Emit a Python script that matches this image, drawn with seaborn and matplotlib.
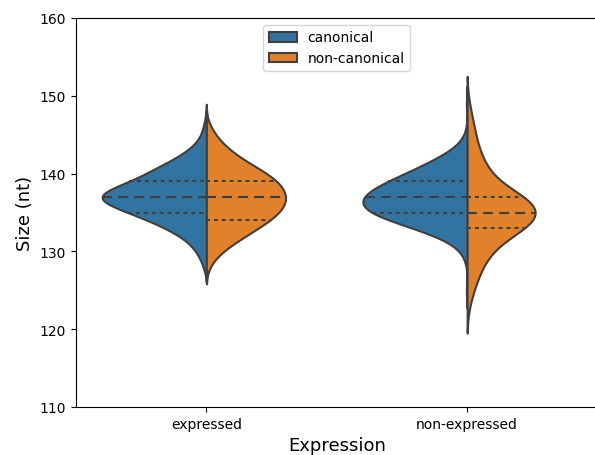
import numpy as np
import pandas as pd
import seaborn as sns
import matplotlib
matplotlib.use("Agg")
import matplotlib.pyplot as plt

# Category and hue labels
expression_levels = ["expressed", "non-expressed"]
splice_types = ["canonical", "non-canonical"]

# Size (nt) values and how many transcripts share each size, per group
expressed_canonical_sizes = [128, 129, 130, 131, 132, 133, 134, 135, 136, 137,
                             138, 139, 140, 141, 142, 143, 144, 145, 146, 147]
expressed_canonical_counts = [3, 5, 9, 14, 23, 36, 51, 69, 88, 103,
                              86, 66, 53, 41, 26, 16, 8, 4, 3, 1]

expressed_noncanonical_sizes = [128, 129, 130, 131, 132, 133, 134, 135, 136, 137,
                                138, 139, 140, 141, 142, 143, 144, 145, 146]
expressed_noncanonical_counts = [2, 5, 11, 18, 27, 35, 44, 50, 54, 55,
                                 53, 49, 42, 32, 23, 16, 10, 6, 3]

nonexpressed_canonical_sizes = [125, 129, 130, 131, 132, 133, 134, 135, 136, 137,
                                138, 139, 140, 141, 142, 143, 144, 145, 149]
nonexpressed_canonical_counts = [2, 2, 5, 12, 28, 50, 75, 95, 103, 100,
                                 90, 75, 58, 42, 28, 14, 5, 2, 2]

nonexpressed_noncanonical_sizes = [123, 124, 125, 126, 127, 128, 129, 130, 131, 132,
                                   133, 134, 135, 136, 137, 138, 139, 140, 141,
                                   142, 143, 144, 145, 146, 147, 148, 149]
nonexpressed_noncanonical_counts = [2, 3, 5, 7, 9, 11, 14, 18, 23, 28,
                                    50, 55, 57, 55, 51, 26, 20, 18, 14,
                                    11, 9, 7, 7, 5, 4, 3, 2]

groups = [
    ("expressed", "canonical", expressed_canonical_sizes, expressed_canonical_counts),
    ("expressed", "non-canonical", expressed_noncanonical_sizes, expressed_noncanonical_counts),
    ("non-expressed", "canonical", nonexpressed_canonical_sizes, nonexpressed_canonical_counts),
    ("non-expressed", "non-canonical", nonexpressed_noncanonical_sizes, nonexpressed_noncanonical_counts),
]

frames = []
for expr, stype, sizes, counts in groups:
    values = np.repeat(sizes, counts)
    frames.append(pd.DataFrame({"Expression": expr, "type": stype, "Size": values}))
df = pd.concat(frames, ignore_index=True)

fig = plt.figure(figsize=(5.95, 4.56), dpi=100)
ax = fig.add_axes([76 / 595, 48 / 456, 521.5 / 595, 389 / 456])

# Each expression level is scaled on its own; half widths follow group size
bandwidths = {"expressed": 0.3, "non-expressed": 0.38}
for i, level in enumerate(expression_levels):
    sns.violinplot(data=df[df["Expression"] == level], x="Expression", y="Size",
                   hue="type", order=expression_levels, hue_order=splice_types,
                   split=True, inner="quart", linewidth=1.5,
                   bw_method=bandwidths[level],
                   density_norm="count", common_norm=True,
                   legend=(i == 0), ax=ax)

# Quartile lines: dashed median, dotted quartiles
for k, line in enumerate(ax.lines):
    line.set_linewidth(1.5)
    if k % 3 == 1:
        line.set_dashes((4.8, 2.9))
    else:
        line.set_dashes((1.9, 1.9))

ax.set_ylim(110, 160)
ax.set_xlim(-0.5, 1.5)
ax.set_ylabel("Size (nt)", fontsize=13)
ax.set_xlabel("Expression", fontsize=13)
ax.tick_params(labelsize=10)
ax.legend(loc="upper center", fontsize=10)

fig.savefig("out.png", dpi=100)
